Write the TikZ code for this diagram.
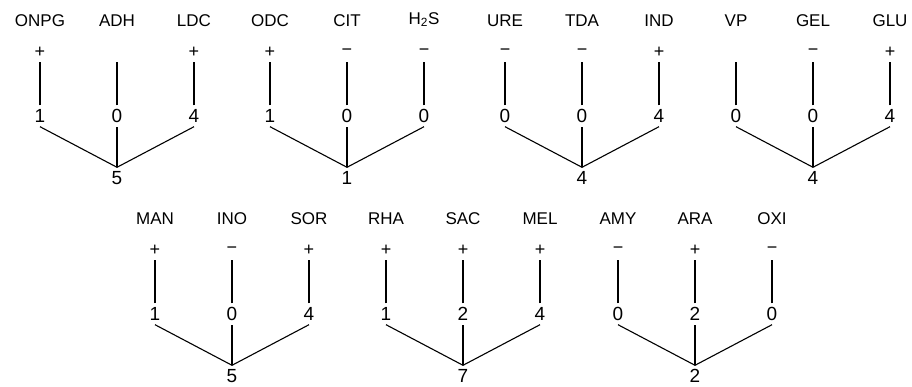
\documentclass[tikz,border=0pt]{standalone}
\usepackage{fontspec}
\setmainfont{Liberation Sans}

\begin{document}
\begin{tikzpicture}[
  x=1pt, y=1pt,
  grow'=up,
  sibling distance=77pt,
  level 1/.style={level distance=62pt},
  level 2/.style={level distance=64pt},
  every node/.style={inner sep=0pt, minimum height=21pt,
    font=\fontsize{19}{19}\selectfont},
  sgn/.style={minimum height=20pt, font=\fontsize{18}{18}\selectfont},
  tst/.style={label={[label distance=15pt, minimum height=0pt,
    font=\fontsize{17}{17}\selectfont]above:#1}},
  parent anchor=north, child anchor=south,
  edge from parent/.style={draw, line width=1.1pt}
]
\useasboundingbox (0,0) rectangle (912,-387);

% top row
\node (r1) at (117,-178) {5}
  child { node (n1a) {1} child { node[sgn, tst=ONPG] (s1a) {+} } }
  child { node (n1b) {0} child { node[sgn, tst=ADH] (s1b) {} } }
  child { node (n1c) {4} child { node[sgn, tst=LDC] (s1c) {+} } };
\node (r2) at (347,-178) {1}
  child { node (n2a) {1} child { node[sgn, tst=ODC] (s2a) {+} } }
  child { node (n2b) {0} child { node[sgn, tst=CIT] (s2b) {−} } }
  child { node (n2c) {0} child { node[sgn, tst={H\textsubscript{2}S}] (s2c) {−} } };
\node (r3) at (582,-178) {4}
  child { node (n3a) {0} child { node[sgn, tst=URE] (s3a) {−} } }
  child { node (n3b) {0} child { node[sgn, tst=TDA] (s3b) {−} } }
  child { node (n3c) {4} child { node[sgn, tst=IND] (s3c) {+} } };
\node (r4) at (813,-178) {4}
  child { node (n4a) {0} child { node[sgn, tst=VP] (s4a) {} } }
  child { node (n4b) {0} child { node[sgn, tst=GEL] (s4b) {−} } }
  child { node (n4c) {4} child { node[sgn, tst=GLU] (s4c) {+} } };

% bottom row
\node (r5) at (232,-376) {5}
  child { node (n5a) {1} child { node[sgn, tst=MAN] (s5a) {+} } }
  child { node (n5b) {0} child { node[sgn, tst=INO] (s5b) {−} } }
  child { node (n5c) {4} child { node[sgn, tst=SOR] (s5c) {+} } };
\node (r6) at (463,-376) {7}
  child { node (n6a) {1} child { node[sgn, tst=RHA] (s6a) {+} } }
  child { node (n6b) {2} child { node[sgn, tst=SAC] (s6b) {+} } }
  child { node (n6c) {4} child { node[sgn, tst=MEL] (s6c) {+} } };
\node (r7) at (695,-376) {2}
  child { node (n7a) {0} child { node[sgn, tst=AMY] (s7a) {−} } }
  child { node (n7b) {2} child { node[sgn, tst=ARA] (s7b) {+} } }
  child { node (n7c) {0} child { node[sgn, tst=OXI] (s7c) {−} } };
\end{tikzpicture}
\end{document}
